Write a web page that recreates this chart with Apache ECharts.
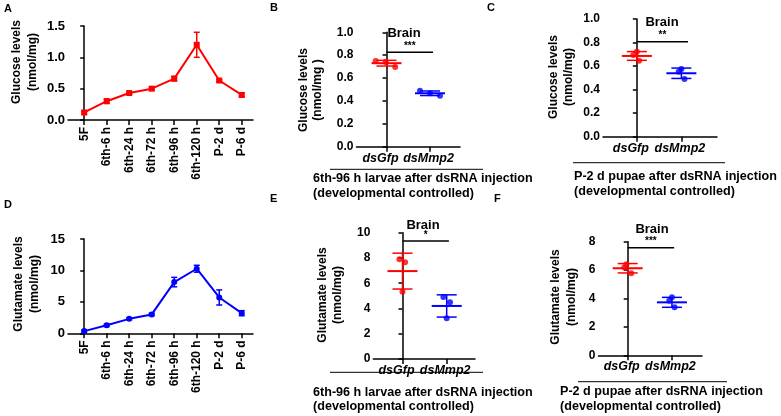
<!DOCTYPE html>
<html>
<head>
<meta charset="utf-8">
<script src="https://cdn.jsdelivr.net/npm/echarts@6/dist/echarts.min.js"></script>
<style>
  html, body { margin: 0; padding: 0; background: #fff; }
  #chart { width: 781px; height: 416px; }
</style>
</head>
<body>
<div id="chart"></div>
<script>
// developmental stages (panels A and D)
const stages = ["5F", "6th-6 h", "6th-24 h", "6th-72 h", "6th-96 h", "6th-120 h", "P-2 d", "P-6 d"];
const glucoseMean = [0.12, 0.30, 0.43, 0.50, 0.66, 1.20, 0.63, 0.40];
const glucoseSd = [0.02, 0.035, 0.015, 0.02, 0.035, 0.20, 0.015, 0.03];
const glutamateMean = [0.35, 1.27, 2.3, 3.0, 8.15, 10.27, 5.7, 3.2];
const glutamateSd = [0.2, 0.2, 0.15, 0.2, 0.75, 0.55, 1.2, 0.4];

// brain panels B, C, E, F
const groups = ["dsGfp", "dsMmp2"];
const bGfp = [0.749, 0.740, 0.696];
const bMmp2 = [0.490, 0.467, 0.446];
const cGfp = [0.722, 0.694, 0.646];
const cMmp2 = [0.575, 0.552, 0.490];
const eGfp = [7.89, 7.66, 5.33];
const eMmp2 = [4.91, 4.49, 3.22];
const fGfp = [6.41, 6.20, 5.77];
const fMmp2 = [4.08, 3.85, 3.38];
// horizontal scatter of the dots around each group
const bJitter = [[-0.25, -0.02, 0.20], [-0.23, 0, 0.23]];
const cJitter = [[0, -0.08, 0.05], [0, -0.06, 0.07]];
const eJitter = [[-0.07, 0.06, 0], [-0.075, 0.075, 0]];
const fJitter = [[-0.03, -0.075, 0.08], [0, -0.06, 0.06]];
// mean and SD as drawn
const bMean = [0.73, 0.467], bSd = [0.025, 0.02];
const cMean = [0.686, 0.539], cSd = [0.037, 0.044];
const eMean = [6.96, 4.20], eSd = [1.42, 0.88];
const fMean = [6.13, 3.73], fSd = [0.33, 0.35];
// significance bars: [from, to, level, stars]
const bSig = [0, 1.07, 0.825, "***"];
const cSig = [0, 1.15, 0.807, "**"];
const eSig = [0, 1.05, 9.34, "*"];
const fSig = [0, 1.05, 7.58, "***"];

const RED = "#ff0000", BLUE = "#0000ff";
const FONT = "Liberation Sans, Arial, sans-serif";

const chart = echarts.init(document.getElementById("chart"));

function errRender(cap, meanHalf) {
  return function (params, api) {
    const x = api.value(0), m = api.value(1), s = api.value(2);
    const top = api.coord([x, m + s]), bot = api.coord([x, m - s]), mid = api.coord([x, m]);
    const st = { stroke: api.visual("color"), lineWidth: 1.5 };
    const kids = [
      { type: "line", shape: { x1: top[0], y1: top[1], x2: bot[0], y2: bot[1] }, style: st },
      { type: "line", shape: { x1: top[0] - cap, y1: top[1], x2: top[0] + cap, y2: top[1] }, style: st },
      { type: "line", shape: { x1: bot[0] - cap, y1: bot[1], x2: bot[0] + cap, y2: bot[1] }, style: st }
    ];
    if (meanHalf) {
      kids.push({ type: "line", shape: { x1: mid[0] - meanHalf, y1: mid[1], x2: mid[0] + meanHalf, y2: mid[1] },
        style: { stroke: api.visual("color"), lineWidth: 2 } });
    }
    return { type: "group", children: kids };
  };
}

function sigRender(stars) {
  return function (params, api) {
    const p1 = api.coord([api.value(0), api.value(2)]);
    const p2 = api.coord([api.value(1), api.value(2)]);
    return { type: "group", children: [
      { type: "line", shape: { x1: p1[0], y1: p1[1], x2: p2[0], y2: p2[1] }, style: { stroke: "#000", lineWidth: 1.5 } },
      { type: "text", x: (p1[0] + p2[0]) / 2, y: p1[1] - 1,
        style: { text: stars, fill: "#000", font: "bold 10px " + FONT, textAlign: "center", textVerticalAlign: "bottom" } }
    ] };
  };
}

const axisLine = { lineStyle: { color: "#000", width: 1.5 } };
const tickStyle = { lineStyle: { color: "#000", width: 1.5 } };

function yAx(grid, max, step, digits, size) {
  return {
    type: "value", gridIndex: grid, min: 0, max: max, interval: step,
    axisLine: Object.assign({ show: true }, axisLine),
    axisTick: Object.assign({ show: true, length: 4 }, tickStyle),
    splitLine: { show: false },
    axisLabel: { color: "#000", fontFamily: FONT, fontWeight: "bold", fontSize: size, margin: 3,
      showMinLabel: true, showMaxLabel: true, formatter: v => v.toFixed(digits) }
  };
}

function xStage(grid) {
  return {
    type: "value", gridIndex: grid, min: -0.72, max: 7.5,
    axisLine: Object.assign({ onZero: false }, axisLine),
    axisTick: Object.assign({ length: 5, customValues: stages.map((s, i) => i) }, tickStyle),
    splitLine: { show: false },
    axisLabel: { customValues: stages.map((s, i) => i), rotate: 90, color: "#000", fontFamily: FONT,
      fontWeight: "bold", fontSize: 12, margin: 7, showMinLabel: true, showMaxLabel: true,
      formatter: v => stages[Math.round(v)] }
  };
}

const groupText = { fontFamily: FONT, fontWeight: "bold", fontStyle: "italic", fontSize: 12.5, color: "#000" };
function xGroup(grid, min, max) {
  return {
    type: "value", gridIndex: grid, min: min, max: max,
    axisLine: Object.assign({ onZero: false }, axisLine),
    axisTick: Object.assign({ length: 5, customValues: [0, 1] }, tickStyle),
    splitLine: { show: false },
    axisLabel: { customValues: [0, 1], color: "#000", fontFamily: FONT, fontWeight: "bold",
      fontStyle: "italic", fontSize: 12.5, margin: 5, showMinLabel: true, showMaxLabel: true,
      hideOverlap: false,
      formatter: v => (Math.round(v) === 0 ? "{a|" : "{b|") + groups[Math.round(v)] + "}",
      rich: {
        a: Object.assign({ padding: [0, 12, 0, 0] }, groupText),
        b: Object.assign({ padding: [0, 3, 0, 0] }, groupText)
      } }
  };
}

const grids = [
  { left: 68, top: 26, width: 185, height: 94 },      // A
  { left: 356.5, top: 32.3, width: 103.5, height: 114.4 }, // B
  { left: 603, top: 19, width: 114, height: 117.7 },  // C
  { left: 68, top: 239, width: 185, height: 94.3 },   // D
  { left: 373.3, top: 232.7, width: 101.7, height: 126.3 }, // E
  { left: 598.5, top: 241.7, width: 103.5, height: 113.6 }  // F
];

const xAxes = [xStage(0), xGroup(1, -0.69, 1.69), xGroup(2, -0.76, 1.8),
  xStage(3), xGroup(4, -0.66, 1.64), xGroup(5, -0.66, 1.68)];
const yAxes = [yAx(0, 1.5, 0.5, 1, 13), yAx(1, 1.0, 0.2, 1, 12), yAx(2, 1.0, 0.2, 1, 12),
  yAx(3, 15, 5, 0, 13), yAx(4, 10, 2, 0, 12), yAx(5, 8, 2, 0, 12)];

const series = [];

function timeCourse(idx, mean, sd, color, symbol) {
  series.push({
    type: "line", xAxisIndex: idx, yAxisIndex: idx, data: mean.map((v, i) => [i, v]),
    symbol: symbol, symbolSize: 6, color: color, lineStyle: { width: 2, color: color }, z: 3
  });
  series.push({
    type: "custom", xAxisIndex: idx, yAxisIndex: idx, data: mean.map((v, i) => [i, v, sd[i]]),
    renderItem: errRender(3), itemStyle: { color: color }, z: 4
  });
}

function dotPanel(idx, gfp, mmp2, jitter, mean, sd, sig) {
  [gfp, mmp2].forEach((vals, g) => {
    const color = g === 0 ? RED : BLUE;
    series.push({
      type: "scatter", xAxisIndex: idx, yAxisIndex: idx, symbolSize: 6,
      data: vals.map((v, k) => [g + jitter[g][k], v]), itemStyle: { color: color }, z: 3
    });
    series.push({
      type: "custom", xAxisIndex: idx, yAxisIndex: idx, data: [[g, mean[g], sd[g]]],
      renderItem: errRender(10, 15), itemStyle: { color: color }, z: 4
    });
  });
  series.push({
    type: "custom", xAxisIndex: idx, yAxisIndex: idx, data: [[sig[0], sig[1], sig[2]]],
    renderItem: sigRender(sig[3]), z: 5
  });
}

timeCourse(0, glucoseMean, glucoseSd, RED, "rect");
dotPanel(1, bGfp, bMmp2, bJitter, bMean, bSd, bSig);
dotPanel(2, cGfp, cMmp2, cJitter, cMean, cSd, cSig);
timeCourse(3, glutamateMean, glutamateSd, BLUE, "circle");
dotPanel(4, eGfp, eMmp2, eJitter, eMean, eSd, eSig);
dotPanel(5, fGfp, fMmp2, fJitter, fMean, fSd, fSig);

// text helpers for the graphic layer
function txt(text, x, y, size, align) {
  return { type: "text", x: x, y: y,
    style: { text: text, fill: "#000", font: "bold " + size + "px " + FONT, textAlign: align || "left", textVerticalAlign: "middle" } };
}
function vtxt(text, x, y, size) {
  return { type: "text", x: x, y: y, rotation: Math.PI / 2,
    style: { text: text, fill: "#000", font: "bold " + size + "px " + FONT, textAlign: "center", textVerticalAlign: "middle" } };
}
function hline(x1, x2, y) {
  return { type: "line", shape: { x1: x1, y1: y, x2: x2, y2: y }, style: { stroke: "#000", lineWidth: 1 } };
}

const CAP = 12.6;
const graphic = [
  txt("A", 4, 9, 11), txt("B", 270, 8, 11), txt("C", 487, 8, 11),
  txt("D", 4, 205, 11), txt("E", 270, 199, 11), txt("F", 494, 199, 11),
  vtxt("Glucose levels", 17, 62, 12), vtxt("(nmol/mg)", 33, 62, 12),
  vtxt("Glutamate levels", 19, 284, 12), vtxt("(nmol/mg)", 35, 284, 12),
  vtxt("Glucose levels", 304, 90, 12), vtxt("(nmol/mg )", 318, 90, 12),
  vtxt("Glucose levels", 554, 77, 12), vtxt("(nmol/mg)", 569, 77, 12),
  vtxt("Glutamate levels", 323, 295, 12), vtxt("(nmol/mg)", 338, 295, 12),
  vtxt("Glutamate levels", 556, 297, 12), vtxt("(nmol/mg)", 572, 297, 12),
  txt("Brain", 404, 33, 13, "center"), txt("Brain", 662, 22, 13, "center"),
  txt("Brain", 423, 225, 13, "center"), txt("Brain", 652, 229, 13, "center"),
  hline(330, 483, 169.3), txt("6th-96 h larvae after dsRNA injection", 313, 179, CAP), txt("(developmental controlled)", 313, 194, CAP),
  hline(573, 725, 162.7), txt("P-2 d pupae after dsRNA injection", 574, 177, CAP), txt("(developmental controlled)", 574, 192, CAP),
  hline(330, 483, 372.3), txt("6th-96 h larvae after dsRNA injection", 313, 393, CAP), txt("(developmental controlled)", 313, 407, CAP),
  hline(578, 727, 381.7), txt("P-2 d pupae after dsRNA injection", 560, 392, CAP), txt("(developmental controlled)", 560, 407, CAP)
];

chart.setOption({
  backgroundColor: "#fff",
  animation: false,
  grid: grids,
  xAxis: xAxes,
  yAxis: yAxes,
  series: series,
  graphic: graphic
});
</script>
</body>
</html>
